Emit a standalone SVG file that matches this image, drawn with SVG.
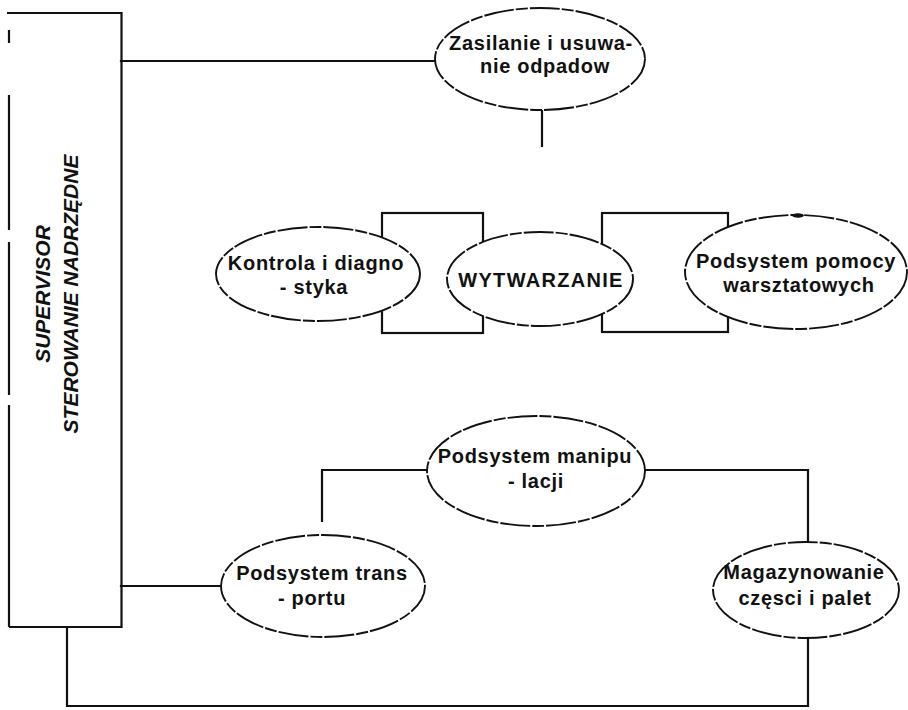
<svg xmlns="http://www.w3.org/2000/svg" width="908" height="710" viewBox="0 0 908 710">
  <style>
    .bg { fill: #ffffff; }
    .wire { fill: none; stroke: #111; stroke-width: 2.2; stroke-linecap: square; }
    .edge { fill: none; stroke: #111; stroke-width: 2.2; }
    .oval { fill: #ffffff; stroke: #111; stroke-width: 1.9; stroke-dasharray: 30 2 12 2; }
    .lbl { font-family: "Liberation Sans", Arial, sans-serif; font-size: 20px; font-weight: bold; fill: #111; text-anchor: middle; letter-spacing: 0.7px; }
    .side { font-family: "Liberation Sans", Arial, sans-serif; font-size: 21px; font-weight: bold; font-style: italic; fill: #111; text-anchor: middle; }
  </style>

  <rect class="bg" x="0" y="0" width="908" height="710"/>

  <!-- connecting lines -->
  <g id="connectors">
    <path class="wire" d="M121 61 H435"/>
    <path class="wire" d="M542 110 V146"/>
    <rect class="wire" x="382" y="213" width="101" height="120"/>
    <rect class="wire" x="602" y="213" width="126" height="119"/>
    <path class="wire" d="M427 470 H322 V521"/>
    <path class="wire" d="M645 470 H808 V542"/>
    <path class="wire" d="M121 586 H222"/>
    <path class="wire" d="M808 637 V706 H67 V627"/>
  </g>

  <!-- supervisory control block -->
  <g id="supervisor">
    <path class="edge" d="M7 13 H121.5 V627 H9"/>
    <path class="edge" d="M9 30 V43 M9 95 V230 M9 242 V395 M9 405 V627"/>
    <text class="side" transform="translate(50,294) rotate(-90)">SUPERVISOR</text>
    <text class="side" transform="translate(78,294) rotate(-90)">STEROWANIE NADRZĘDNE</text>
  </g>

  <g id="zasilanie">
    <ellipse class="oval" cx="540" cy="59" rx="105" ry="51"/>
    <text class="lbl" x="541" y="50">Zasilanie i usuwa-</text>
    <text class="lbl" x="545" y="73">nie odpadow</text>
  </g>

  <g id="kontrola">
    <ellipse class="oval" cx="318" cy="274" rx="102" ry="47"/>
    <text class="lbl" x="316" y="270">Kontrola i diagno</text>
    <text class="lbl" x="314" y="294">- styka</text>
  </g>

  <g id="wytwarzanie">
    <ellipse class="oval" cx="540" cy="279" rx="93" ry="47"/>
    <text class="lbl" x="541" y="287" style="letter-spacing:1.3px">WYTWARZANIE</text>
  </g>

  <g id="pomoce">
    <ellipse class="oval" cx="796" cy="272" rx="111" ry="57"/>
    <ellipse cx="798" cy="215.5" rx="6" ry="2.2" fill="#111"/>
    <text class="lbl" x="796" y="268">Podsystem pomocy</text>
    <text class="lbl" x="799" y="292">warsztatowych</text>
  </g>

  <g id="manipulacja">
    <ellipse class="oval" cx="536" cy="471" rx="109" ry="55"/>
    <text class="lbl" x="535" y="463">Podsystem manipu</text>
    <text class="lbl" x="536" y="488">- lacji</text>
  </g>

  <g id="transport">
    <ellipse class="oval" cx="323" cy="586" rx="102" ry="51"/>
    <text class="lbl" x="322" y="580">Podsystem trans</text>
    <text class="lbl" x="312" y="605">- portu</text>
  </g>

  <g id="magazyn">
    <ellipse class="oval" cx="806" cy="590" rx="93" ry="48"/>
    <text class="lbl" x="804" y="579">Magazynowanie</text>
    <text class="lbl" x="805" y="605">częsci i palet</text>
  </g>
</svg>
